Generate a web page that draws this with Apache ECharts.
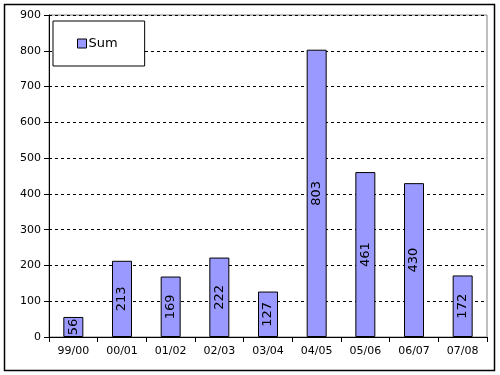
<!DOCTYPE html>
<html><head><meta charset="utf-8">
<script src="https://cdn.jsdelivr.net/npm/echarts@6/dist/echarts.min.js"></script>
<style>html,body{margin:0;padding:0;background:#fff}#c{width:500px;height:375px}</style>
</head><body><div id="c"></div>
<script>
const categories = ['99/00','00/01','01/02','02/03','03/04','04/05','05/06','06/07','07/08'];
const sumValues = [56, 213, 169, 222, 127, 803, 461, 430, 172];
const yTicks = [0,100,200,300,400,500,600,700,800,900];

const chart = echarts.init(document.getElementById('c'), null, {renderer:'canvas'});
const font = 'Verdana, "DejaVu Sans", sans-serif';
chart.setOption({
  animation: false,
  backgroundColor: '#fff',
  graphic: [{
    type: 'rect', shape: {x: 4.5, y: 4.5, width: 490, height: 366},
    style: {fill: 'none', stroke: '#000', lineWidth: 1.5}, z: 100
  }],
  grid: {left: 49, right: 13, top: 15, bottom: 38, show: true, borderColor: '#808080', borderWidth: 1, backgroundColor: '#fff'},
  legend: {
    left: 53, top: 21,
    orient: 'vertical',
    padding: [16, 27, 16, 24],
    borderColor: '#000', borderWidth: 1, backgroundColor: '#fff',
    icon: 'rect', itemWidth: 9, itemHeight: 9, itemGap: 4,
    textStyle: {fontFamily: font, fontSize: 13, color: '#000', padding: [0,0,0,-3]},
    data: [{name: 'Sum', itemStyle: {borderColor: '#000', borderWidth: 1}}]
  },
  xAxis: {
    type: 'category', data: categories,
    axisLine: {lineStyle: {color: '#000', width: 1}},
    axisTick: {show: true, inside: false, length: 5, lineStyle: {color: '#000'}},
    axisLabel: {fontFamily: font, fontSize: 11, color: '#000', margin: 9}
  },
  yAxis: {
    type: 'value', min: yTicks[0], max: yTicks[yTicks.length-1], interval: 100,
    axisLine: {show: true, lineStyle: {color: '#000', width: 1}},
    axisTick: {show: true, length: 5, lineStyle: {color: '#000'}},
    axisLabel: {fontFamily: font, fontSize: 11, color: '#000', margin: 8},
    splitLine: {show: true, lineStyle: {color: '#000', type: [3,3], width: 1}}
  },
  series: [{
    name: 'Sum', type: 'bar', data: sumValues, barWidth: 20,
    itemStyle: {color: '#9999FF', borderColor: '#000', borderWidth: 1},
    label: {show: true, position: 'inside', rotate: 90, fontFamily: font, fontSize: 13, color: '#000'}
  }]
});
</script></body></html>
